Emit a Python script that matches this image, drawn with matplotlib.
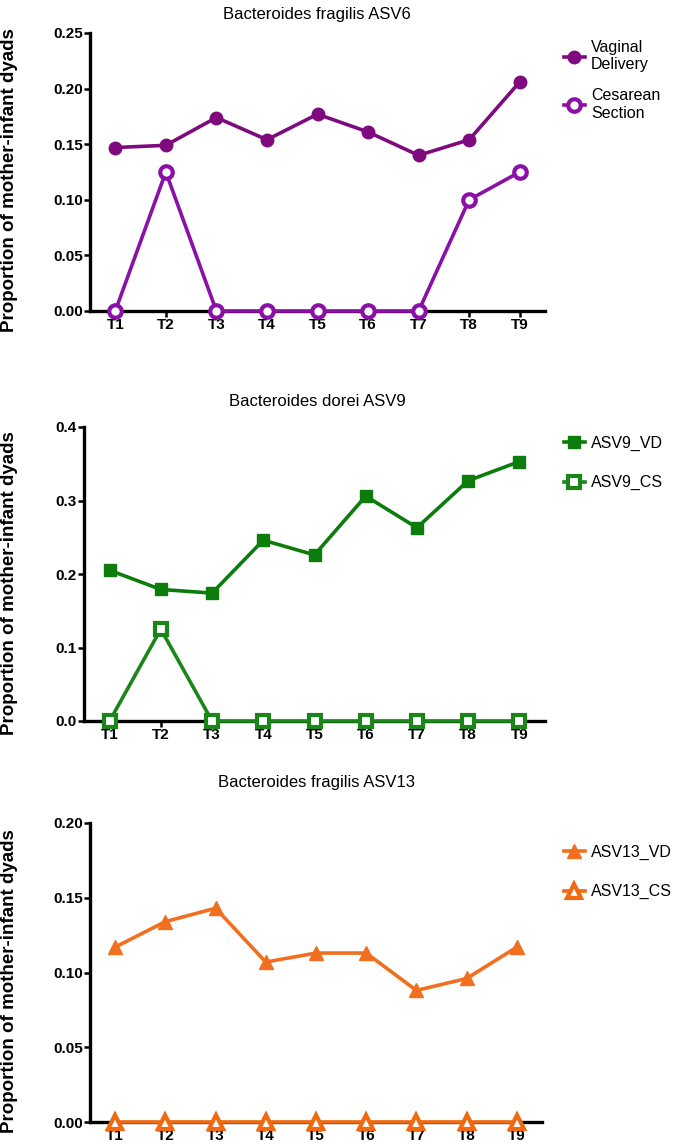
import numpy as np
import matplotlib.pyplot as plt

plt.rcParams['font.family'] = ['Liberation Sans', 'DejaVu Sans']

# time points
timepoints = ['T1', 'T2', 'T3', 'T4', 'T5', 'T6', 'T7', 'T8', 'T9']

# B. fragilis ASV6
asv6_vd = [0.147, 0.149, 0.174, 0.154, 0.177, 0.161, 0.140, 0.154, 0.206]
asv6_cs = [0.0, 0.125, 0.0, 0.0, 0.0, 0.0, 0.0, 0.100, 0.125]

# B. dorei ASV9
asv9_vd = [0.205, 0.179, 0.174, 0.246, 0.226, 0.306, 0.263, 0.327, 0.353]
asv9_cs = [0.0, 0.125, 0.0, 0.0, 0.0, 0.0, 0.0, 0.0, 0.0]

# B. fragilis ASV13
asv13_vd = [0.117, 0.134, 0.143, 0.107, 0.113, 0.113, 0.088, 0.096, 0.117]
asv13_cs = [0.0, 0.0, 0.0, 0.0, 0.0, 0.0, 0.0, 0.0, 0.0]

W, H = 676, 1146
fig = plt.figure(figsize=(W / 100, H / 100), dpi=100)


def px_axes(x0, x1, y_top, y_bot):
    return fig.add_axes([x0 / W, 1 - y_bot / H, (x1 - x0) / W, (y_bot - y_top) / H])


panels = [
    dict(box=(90, 545, 33, 311), title='Bacteroides fragilis ASV6', title_y=15,
         vd=asv6_vd, cs=asv6_cs, color='#7e0a7e', color_cs='#8a10a8', marker='o',
         labels=('Vaginal\nDelivery', 'Cesarean\nSection'),
         ylim=(0, 0.25), yticks=[0, 0.05, 0.10, 0.15, 0.20, 0.25], fmt='{:.2f}',
         leg_y=40, spacing=1.0),
    dict(box=(84, 545, 427, 721), title='Bacteroides dorei ASV9', title_y=402,
         vd=asv9_vd, cs=asv9_cs, color='#0c7c0c', color_cs='#1a861a', marker='s',
         labels=('ASV9_VD', 'ASV9_CS'),
         ylim=(0, 0.4), yticks=[0, 0.1, 0.2, 0.3, 0.4], fmt='{:.1f}',
         leg_y=436, spacing=1.5),
    dict(box=(90, 542, 823, 1122), title='Bacteroides fragilis ASV13', title_y=783,
         vd=asv13_vd, cs=asv13_cs, color='#f07020', color_cs='#f26a10', marker='^',
         labels=('ASV13_VD', 'ASV13_CS'),
         ylim=(0, 0.20), yticks=[0, 0.05, 0.10, 0.15, 0.20], fmt='{:.2f}',
         leg_y=845, spacing=1.5),
]

x = np.arange(1, len(timepoints) + 1)

for p in panels:
    ax = px_axes(*p['box'])
    ms = 9 if p['marker'] != '^' else 10
    ax.plot(x, p['vd'], color=p['color'], lw=2.6, marker=p['marker'], ms=ms,
            mfc=p['color'], mec=p['color'], clip_on=False, zorder=4, label=p['labels'][0])
    ax.plot(x, p['cs'], color=p['color_cs'], lw=2.6, marker=p['marker'], ms=ms,
            mfc='white', mec=p['color_cs'], mew=3.0, clip_on=False, zorder=5,
            label=p['labels'][1])

    ax.set_xlim(0.5, 9.5)
    ax.set_ylim(*p['ylim'])
    ax.set_yticks(p['yticks'])
    ax.set_yticklabels([p['fmt'].format(v) for v in p['yticks']],
                       fontsize=11, fontweight='bold')
    ax.set_xticks(x)
    ax.set_xticklabels(timepoints, fontsize=11, fontweight='bold')
    ax.tick_params(axis='y', direction='out', length=4, width=1.8, pad=1)
    ax.tick_params(axis='x', direction='out', length=4, width=1.8, pad=1)
    for s in ['top', 'right']:
        ax.spines[s].set_visible(False)
    for s in ['left', 'bottom']:
        ax.spines[s].set_linewidth(2.4)
    ax.set_ylabel('Proportion of mother-infant dyads', fontsize=13.5,
                  fontweight='bold')
    ax.yaxis.set_label_coords(-(p['box'][0] - 18) / (p['box'][1] - p['box'][0]), 0.47)

    fig.text(317 / W, 1 - p['title_y'] / H, p['title'], ha='center', va='center',
             fontsize=12)

    ax.legend(loc='upper left', bbox_to_anchor=(564 / W, 1 - p['leg_y'] / H),
              bbox_transform=fig.transFigure, frameon=False, fontsize=11.5,
              handlelength=1.3, handletextpad=0.4, labelspacing=p['spacing'],
              borderaxespad=0, borderpad=0)

fig.savefig('out.png', dpi=100)
